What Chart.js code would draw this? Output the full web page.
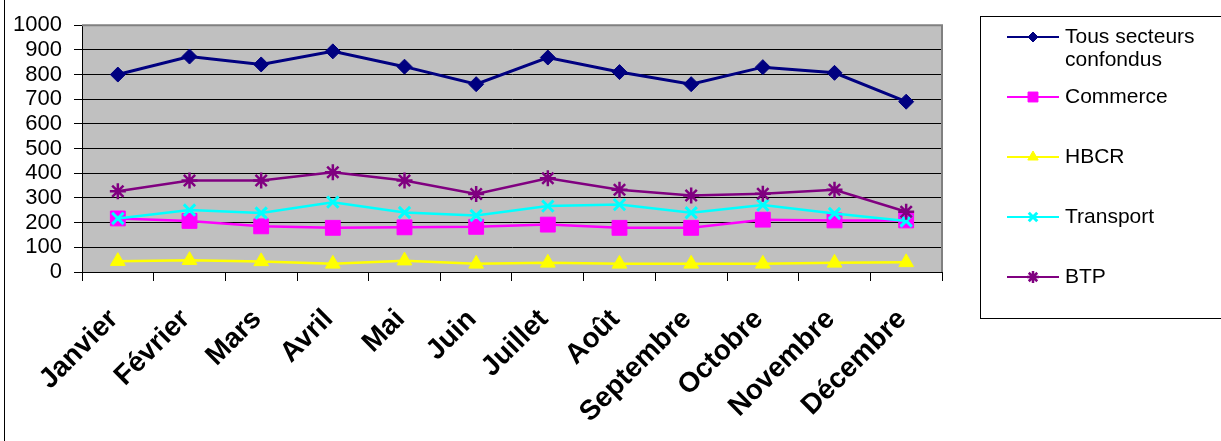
<!DOCTYPE html>
<html>
<head>
<meta charset="utf-8">
<script src="https://cdn.jsdelivr.net/npm/chart.js@4.4.0/dist/chart.umd.min.js"></script>
<style>
  html, body { margin: 0; padding: 0; background: #fff; }
  canvas { display: block; }
</style>
</head>
<body>
<canvas id="chart" width="1221" height="441"></canvas>
<script>
// Months on the category axis
const months = ['Janvier', 'Février', 'Mars', 'Avril', 'Mai', 'Juin', 'Juillet', 'Août', 'Septembre', 'Octobre', 'Novembre', 'Décembre'];

// Monthly values per sector
const tousSecteurs = [800, 873, 841, 894, 832, 761, 869, 810, 761, 830, 807, 690];
const commerce     = [217, 207, 185, 179, 181, 183, 192, 179, 179, 212, 209, 209];
const hbcr         = [44, 48, 43, 33, 46, 33, 37, 33, 33, 33, 37, 39];
const transport    = [217, 251, 239, 283, 241, 229, 267, 273, 240, 271, 237, 207];
const btp          = [327, 371, 371, 404, 371, 316, 380, 333, 310, 317, 333, 244];

// Value axis
const yMin = 0, yMax = 1000, yStep = 100;

const FONT = '"Liberation Sans", Arial, sans-serif';

// Grey plot background, grey frame and outer border line
const plotFrame = {
  id: 'plotFrame',
  beforeDraw(chart) {
    const { ctx, chartArea: a } = chart;
    ctx.save();
    ctx.fillStyle = '#ffffff';
    ctx.fillRect(0, 0, chart.width, chart.height);
    ctx.fillStyle = '#C0C0C0';
    ctx.fillRect(a.left, a.top, a.right - a.left, a.bottom - a.top);
    ctx.restore();
  },
  beforeDatasetsDraw(chart) {
    const { ctx, chartArea: a } = chart;
    ctx.save();
    ctx.strokeStyle = '#808080';
    ctx.lineWidth = 2;
    ctx.beginPath();
    ctx.moveTo(a.left, a.top);
    ctx.lineTo(a.right, a.top);
    ctx.lineTo(a.right, a.bottom);
    ctx.stroke();
    ctx.restore();
  },
  afterDraw(chart) {
    const ctx = chart.ctx;
    ctx.save();
    ctx.strokeStyle = '#000';
    ctx.lineWidth = 1;
    ctx.beginPath();
    ctx.moveTo(4.5, 0);
    ctx.lineTo(4.5, chart.height);
    ctx.stroke();
    ctx.restore();
  }
};

// Boxed legend on the right, with wrapped labels
const sideLegend = {
  id: 'sideLegend',
  afterDraw(chart) {
    const ctx = chart.ctx;
    ctx.save();
    ctx.strokeStyle = '#000';
    ctx.lineWidth = 1;
    ctx.strokeRect(980.5, 16.5, 270, 302);
    ctx.font = '21px ' + FONT;
    ctx.textBaseline = 'middle';
    ctx.textAlign = 'left';
    const textX = 1065, maxW = 150, lineH = 23;
    chart.data.datasets.forEach((ds, i) => {
      const y = 37 + 60 * i;
      ctx.strokeStyle = ds.borderColor;
      ctx.lineWidth = 2;
      ctx.beginPath();
      ctx.moveTo(1007, y);
      ctx.lineTo(1059, y);
      ctx.stroke();
      ctx.fillStyle = ds.backgroundColor;
      ctx.strokeStyle = ds.borderColor;
      ctx.lineWidth = ds.pointBorderWidth || 1;
      Chart.helpers.drawPoint(ctx, {
        pointStyle: ds.pointStyle,
        radius: ds.legendRadius,
        borderWidth: ds.pointBorderWidth || 1,
        rotation: 0
      }, 1033, y);
      // wrap label text
      const words = ds.label.split(' ');
      const lines = [];
      let cur = '';
      words.forEach(w => {
        const t = cur ? cur + ' ' + w : w;
        if (ctx.measureText(t).width > maxW && cur) { lines.push(cur); cur = w; }
        else cur = t;
      });
      lines.push(cur);
      ctx.fillStyle = '#000';
      lines.forEach((ln, k) => ctx.fillText(ln, textX, y + k * lineH));
    });
    ctx.restore();
  }
};

new Chart(document.getElementById('chart'), {
  type: 'line',
  data: {
    labels: months,
    datasets: [
      { label: 'Tous secteurs confondus', data: tousSecteurs, borderColor: '#000080', backgroundColor: '#000080',
        pointStyle: 'rectRot', pointRadius: 7.5, borderWidth: 3, pointBorderWidth: 1, legendRadius: 5, order: 4 },
      { label: 'Commerce', data: commerce, borderColor: '#FF00FF', backgroundColor: '#FF00FF',
        pointStyle: 'rect', pointRadius: 10.5, borderWidth: 2.5, pointBorderWidth: 1, legendRadius: 7, order: 3 },
      { label: 'HBCR', data: hbcr, borderColor: '#FFFF00', backgroundColor: '#FFFF00',
        pointStyle: 'triangle', pointRadius: 8.5, borderWidth: 2.5, pointBorderWidth: 1, legendRadius: 6, order: 2 },
      { label: 'Transport', data: transport, borderColor: '#00FFFF', backgroundColor: '#00FFFF',
        pointStyle: 'crossRot', pointRadius: 8, borderWidth: 2.5, pointBorderWidth: 3, legendRadius: 6, order: 1 },
      { label: 'BTP', data: btp, borderColor: '#800080', backgroundColor: '#800080',
        pointStyle: 'star', pointRadius: 8, borderWidth: 2.5, pointBorderWidth: 2.5, legendRadius: 6, order: 0 }
    ]
  },
  options: {
    responsive: false,
    animation: false,
    devicePixelRatio: 1,
    events: [],
    layout: { padding: { top: 22, right: 279, bottom: 0, left: 0 } },
    elements: { line: { tension: 0 } },
    plugins: { legend: { display: false }, tooltip: { enabled: false } },
    scales: {
      x: {
        offset: true,
        grid: { offset: true, drawOnChartArea: false, drawTicks: true, tickLength: 9, color: '#000', lineWidth: 1 },
        border: { color: '#000', width: 1 },
        ticks: { autoSkip: false, minRotation: 45, maxRotation: 45, color: '#000', padding: 22, labelOffset: -4,
                 font: { family: FONT, size: 28, weight: 'bold' } },
        afterFit(s) { s.height = 169; }
      },
      y: {
        min: yMin, max: yMax,
        grid: { color: '#000', lineWidth: 1, tickLength: 8, drawTicks: true },
        border: { color: '#000', width: 1 },
        ticks: { stepSize: yStep, autoSkip: false, color: '#000', padding: 12, font: { family: FONT, size: 22 },
                 callback: v => String(v) },
        afterFit(s) { s.width = 82; }
      }
    }
  },
  plugins: [plotFrame, sideLegend]
});
</script>
</body>
</html>
